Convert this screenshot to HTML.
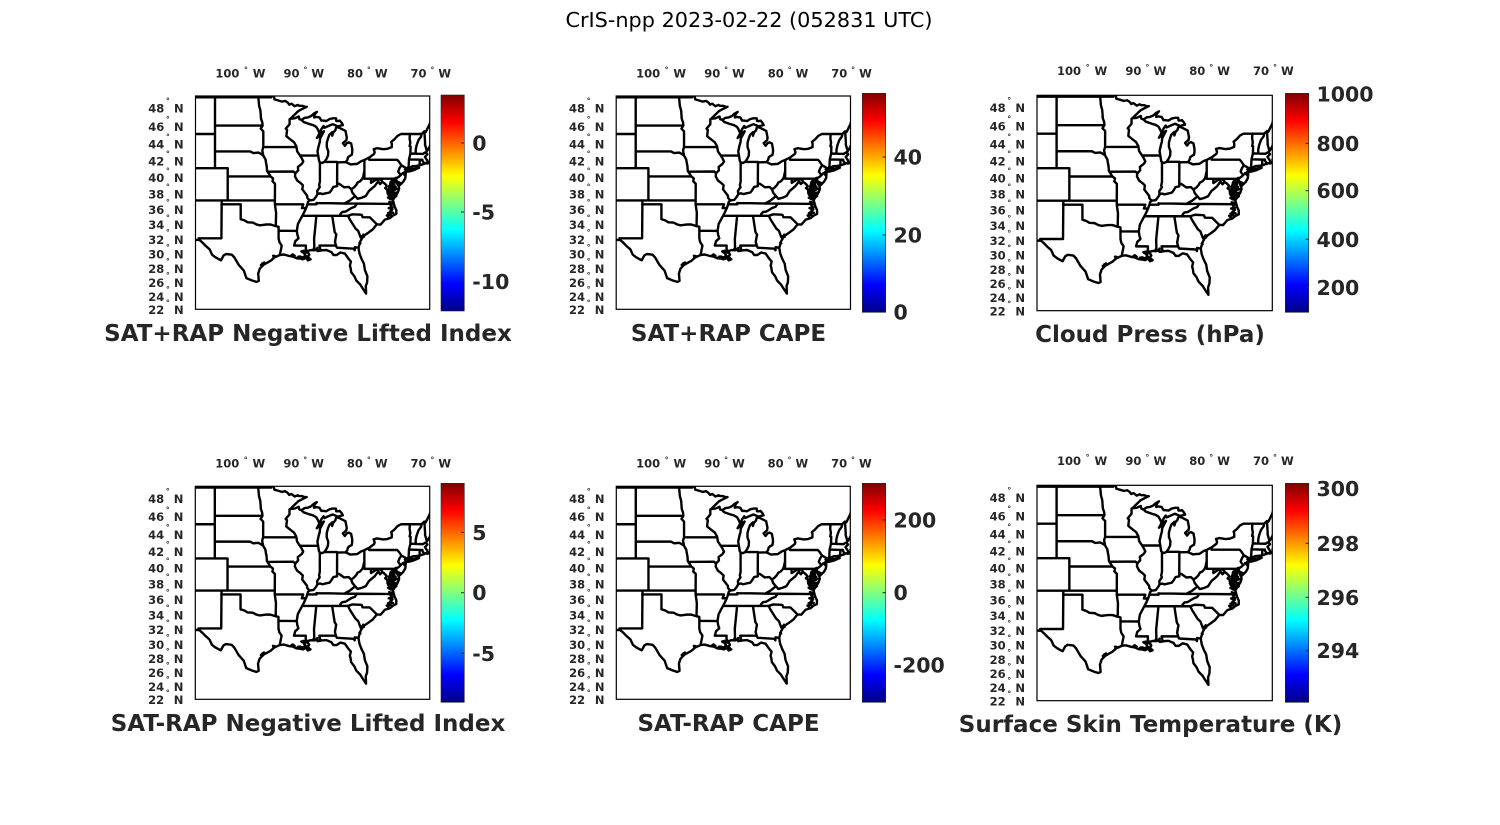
<!DOCTYPE html>
<html><head><meta charset="utf-8">
<style>
html,body{margin:0;padding:0;background:#fff;}
svg{display:block;}
.t{font-family:"DejaVu Sans","Liberation Sans",sans-serif;font-weight:bold;font-size:11.5px;fill:#262626;}
.e{text-anchor:end;}
.g{font-family:"DejaVu Sans","Liberation Sans",sans-serif;font-weight:bold;font-size:8px;fill:#262626;text-anchor:middle;}
.c{font-family:"DejaVu Sans","Liberation Sans",sans-serif;font-weight:bold;font-size:20.5px;fill:#262626;}
.h{font-family:"DejaVu Sans","Liberation Sans",sans-serif;font-weight:bold;font-size:23px;fill:#262626;text-anchor:middle;}
.fr{fill:none;stroke:#000;stroke-width:1.2;}
.tk{stroke:#262626;stroke-width:1;}
.cb{stroke:#262626;stroke-width:0.6;}
</style></head>
<body>
<svg width="1500" height="825" viewBox="0 0 1500 825" xmlns="http://www.w3.org/2000/svg">
<defs>
<linearGradient id="jet" x1="0" y1="1" x2="0" y2="0">
<stop offset="0" stop-color="#000088"/>
<stop offset="0.125" stop-color="#0000ff"/>
<stop offset="0.375" stop-color="#00ffff"/>
<stop offset="0.625" stop-color="#ffff00"/>
<stop offset="0.875" stop-color="#ff0000"/>
<stop offset="1" stop-color="#800000"/>
</linearGradient>
<clipPath id="cp"><rect x="0" y="0" width="234.2" height="213.3"/></clipPath>
<path id="mp" d="" fill="none" stroke="#000" stroke-width="2.4" stroke-linejoin="round" stroke-linecap="round"/>
</defs>
<rect width="1500" height="825" fill="#fff"/>

<text x="749" y="27" text-anchor="middle" font-family="DejaVu Sans, Liberation Sans, sans-serif" font-size="20.8" fill="#000">CrIS-npp 2023-02-22 (052831 UTC)</text>

<!-- Panel 1 -->
<g transform="translate(195.5,96)">
<use href="#mp" clip-path="url(#cp)"/>
<rect class="fr" width="234.2" height="213.3"/>
<g class="t e"><text x="-31.2" y="16.5">48</text><text x="-31.2" y="34.9">46</text><text x="-31.2" y="52.6">44</text><text x="-31.2" y="69.6">42</text><text x="-31.2" y="86.2">40</text><text x="-31.2" y="102.3">38</text><text x="-31.2" y="117.9">36</text><text x="-31.2" y="133.2">34</text><text x="-31.2" y="148.1">32</text><text x="-31.2" y="162.7">30</text><text x="-31.2" y="177">28</text><text x="-31.2" y="191">26</text><text x="-31.2" y="204.8">24</text><text x="-31.2" y="218.2">22</text></g>
<g class="g"><text x="-27.6" y="7.6">°</text><text x="-27.6" y="26">°</text><text x="-27.6" y="43.7">°</text><text x="-27.6" y="60.7">°</text><text x="-27.6" y="77.3">°</text><text x="-27.6" y="93.4">°</text><text x="-27.6" y="109">°</text><text x="-27.6" y="124.3">°</text><text x="-27.6" y="139.2">°</text><text x="-27.6" y="153.8">°</text><text x="-27.6" y="168.1">°</text><text x="-27.6" y="182.1">°</text><text x="-27.6" y="195.9">°</text><text x="-27.6" y="209.3">°</text></g>
<g class="t"><text x="-21.5" y="16.5">N</text><text x="-21.5" y="34.9">N</text><text x="-21.5" y="52.6">N</text><text x="-21.5" y="69.6">N</text><text x="-21.5" y="86.2">N</text><text x="-21.5" y="102.3">N</text><text x="-21.5" y="117.9">N</text><text x="-21.5" y="133.2">N</text><text x="-21.5" y="148.1">N</text><text x="-21.5" y="162.7">N</text><text x="-21.5" y="177">N</text><text x="-21.5" y="191">N</text><text x="-21.5" y="204.8">N</text><text x="-21.5" y="218.2">N</text></g>
<g class="t"><text x="19.9" y="-18.7">100</text><text x="88" y="-18.7">90</text><text x="151.5" y="-18.7">80</text><text x="215" y="-18.7">70</text><text x="57.2" y="-18.7">W</text><text x="115.9" y="-18.7">W</text><text x="179.4" y="-18.7">W</text><text x="242.9" y="-18.7">W</text></g>
<g class="g"><text x="50.4" y="-23.5">°</text><text x="109.9" y="-23.5">°</text><text x="173.4" y="-23.5">°</text><text x="236.9" y="-23.5">°</text></g>
</g>

<!-- Panel 2 -->
<g transform="translate(616.2,96) scale(1.0004,1)">
<use href="#mp" clip-path="url(#cp)"/>
<rect class="fr" width="234.2" height="213.3"/>
<g class="t e"><text x="-31.2" y="16.5">48</text><text x="-31.2" y="34.9">46</text><text x="-31.2" y="52.6">44</text><text x="-31.2" y="69.6">42</text><text x="-31.2" y="86.2">40</text><text x="-31.2" y="102.3">38</text><text x="-31.2" y="117.9">36</text><text x="-31.2" y="133.2">34</text><text x="-31.2" y="148.1">32</text><text x="-31.2" y="162.7">30</text><text x="-31.2" y="177">28</text><text x="-31.2" y="191">26</text><text x="-31.2" y="204.8">24</text><text x="-31.2" y="218.2">22</text></g>
<g class="g"><text x="-27.6" y="7.6">°</text><text x="-27.6" y="26">°</text><text x="-27.6" y="43.7">°</text><text x="-27.6" y="60.7">°</text><text x="-27.6" y="77.3">°</text><text x="-27.6" y="93.4">°</text><text x="-27.6" y="109">°</text><text x="-27.6" y="124.3">°</text><text x="-27.6" y="139.2">°</text><text x="-27.6" y="153.8">°</text><text x="-27.6" y="168.1">°</text><text x="-27.6" y="182.1">°</text><text x="-27.6" y="195.9">°</text><text x="-27.6" y="209.3">°</text></g>
<g class="t"><text x="-21.5" y="16.5">N</text><text x="-21.5" y="34.9">N</text><text x="-21.5" y="52.6">N</text><text x="-21.5" y="69.6">N</text><text x="-21.5" y="86.2">N</text><text x="-21.5" y="102.3">N</text><text x="-21.5" y="117.9">N</text><text x="-21.5" y="133.2">N</text><text x="-21.5" y="148.1">N</text><text x="-21.5" y="162.7">N</text><text x="-21.5" y="177">N</text><text x="-21.5" y="191">N</text><text x="-21.5" y="204.8">N</text><text x="-21.5" y="218.2">N</text></g>
<g class="t"><text x="19.9" y="-18.7">100</text><text x="88" y="-18.7">90</text><text x="151.5" y="-18.7">80</text><text x="215" y="-18.7">70</text><text x="57.2" y="-18.7">W</text><text x="115.9" y="-18.7">W</text><text x="179.4" y="-18.7">W</text><text x="242.9" y="-18.7">W</text></g>
<g class="g"><text x="50.4" y="-23.5">°</text><text x="109.9" y="-23.5">°</text><text x="173.4" y="-23.5">°</text><text x="236.9" y="-23.5">°</text></g>
</g>

<!-- Panel 3 -->
<g transform="translate(1037,95.3) scale(1.0047,1.0098)">
<use href="#mp" clip-path="url(#cp)"/>
<rect class="fr" width="234.2" height="213.3"/>
<g class="t e"><text x="-31.2" y="16.5">48</text><text x="-31.2" y="34.9">46</text><text x="-31.2" y="52.6">44</text><text x="-31.2" y="69.6">42</text><text x="-31.2" y="86.2">40</text><text x="-31.2" y="102.3">38</text><text x="-31.2" y="117.9">36</text><text x="-31.2" y="133.2">34</text><text x="-31.2" y="148.1">32</text><text x="-31.2" y="162.7">30</text><text x="-31.2" y="177">28</text><text x="-31.2" y="191">26</text><text x="-31.2" y="204.8">24</text><text x="-31.2" y="218.2">22</text></g>
<g class="g"><text x="-27.6" y="7.6">°</text><text x="-27.6" y="26">°</text><text x="-27.6" y="43.7">°</text><text x="-27.6" y="60.7">°</text><text x="-27.6" y="77.3">°</text><text x="-27.6" y="93.4">°</text><text x="-27.6" y="109">°</text><text x="-27.6" y="124.3">°</text><text x="-27.6" y="139.2">°</text><text x="-27.6" y="153.8">°</text><text x="-27.6" y="168.1">°</text><text x="-27.6" y="182.1">°</text><text x="-27.6" y="195.9">°</text><text x="-27.6" y="209.3">°</text></g>
<g class="t"><text x="-21.5" y="16.5">N</text><text x="-21.5" y="34.9">N</text><text x="-21.5" y="52.6">N</text><text x="-21.5" y="69.6">N</text><text x="-21.5" y="86.2">N</text><text x="-21.5" y="102.3">N</text><text x="-21.5" y="117.9">N</text><text x="-21.5" y="133.2">N</text><text x="-21.5" y="148.1">N</text><text x="-21.5" y="162.7">N</text><text x="-21.5" y="177">N</text><text x="-21.5" y="191">N</text><text x="-21.5" y="204.8">N</text><text x="-21.5" y="218.2">N</text></g>
<g class="t"><text x="19.9" y="-20.1">100</text><text x="88" y="-20.1">90</text><text x="151.5" y="-20.1">80</text><text x="215" y="-20.1">70</text><text x="57.2" y="-20.1">W</text><text x="115.9" y="-20.1">W</text><text x="179.4" y="-20.1">W</text><text x="242.9" y="-20.1">W</text></g>
<g class="g"><text x="50.4" y="-24.9">°</text><text x="109.9" y="-24.9">°</text><text x="173.4" y="-24.9">°</text><text x="236.9" y="-24.9">°</text></g>
</g>

<!-- Panel 4 -->
<g transform="translate(195.3,486.3) scale(1.0009,0.9986)">
<use href="#mp" clip-path="url(#cp)"/>
<rect class="fr" width="234.2" height="213.3"/>
<g class="t e"><text x="-31.2" y="16.5">48</text><text x="-31.2" y="34.9">46</text><text x="-31.2" y="52.6">44</text><text x="-31.2" y="69.6">42</text><text x="-31.2" y="86.2">40</text><text x="-31.2" y="102.3">38</text><text x="-31.2" y="117.9">36</text><text x="-31.2" y="133.2">34</text><text x="-31.2" y="148.1">32</text><text x="-31.2" y="162.7">30</text><text x="-31.2" y="177">28</text><text x="-31.2" y="191">26</text><text x="-31.2" y="204.8">24</text><text x="-31.2" y="218.2">22</text></g>
<g class="g"><text x="-27.6" y="7.6">°</text><text x="-27.6" y="26">°</text><text x="-27.6" y="43.7">°</text><text x="-27.6" y="60.7">°</text><text x="-27.6" y="77.3">°</text><text x="-27.6" y="93.4">°</text><text x="-27.6" y="109">°</text><text x="-27.6" y="124.3">°</text><text x="-27.6" y="139.2">°</text><text x="-27.6" y="153.8">°</text><text x="-27.6" y="168.1">°</text><text x="-27.6" y="182.1">°</text><text x="-27.6" y="195.9">°</text><text x="-27.6" y="209.3">°</text></g>
<g class="t"><text x="-21.5" y="16.5">N</text><text x="-21.5" y="34.9">N</text><text x="-21.5" y="52.6">N</text><text x="-21.5" y="69.6">N</text><text x="-21.5" y="86.2">N</text><text x="-21.5" y="102.3">N</text><text x="-21.5" y="117.9">N</text><text x="-21.5" y="133.2">N</text><text x="-21.5" y="148.1">N</text><text x="-21.5" y="162.7">N</text><text x="-21.5" y="177">N</text><text x="-21.5" y="191">N</text><text x="-21.5" y="204.8">N</text><text x="-21.5" y="218.2">N</text></g>
<g class="t"><text x="19.9" y="-19">100</text><text x="88" y="-19">90</text><text x="151.5" y="-19">80</text><text x="215" y="-19">70</text><text x="57.2" y="-19">W</text><text x="115.9" y="-19">W</text><text x="179.4" y="-19">W</text><text x="242.9" y="-19">W</text></g>
<g class="g"><text x="50.4" y="-23.8">°</text><text x="109.9" y="-23.8">°</text><text x="173.4" y="-23.8">°</text><text x="236.9" y="-23.8">°</text></g>
</g>

<!-- Panel 5 -->
<g transform="translate(616.3,486.3) scale(0.9991,0.9986)">
<use href="#mp" clip-path="url(#cp)"/>
<rect class="fr" width="234.2" height="213.3"/>
<g class="t e"><text x="-31.2" y="16.5">48</text><text x="-31.2" y="34.9">46</text><text x="-31.2" y="52.6">44</text><text x="-31.2" y="69.6">42</text><text x="-31.2" y="86.2">40</text><text x="-31.2" y="102.3">38</text><text x="-31.2" y="117.9">36</text><text x="-31.2" y="133.2">34</text><text x="-31.2" y="148.1">32</text><text x="-31.2" y="162.7">30</text><text x="-31.2" y="177">28</text><text x="-31.2" y="191">26</text><text x="-31.2" y="204.8">24</text><text x="-31.2" y="218.2">22</text></g>
<g class="g"><text x="-27.6" y="7.6">°</text><text x="-27.6" y="26">°</text><text x="-27.6" y="43.7">°</text><text x="-27.6" y="60.7">°</text><text x="-27.6" y="77.3">°</text><text x="-27.6" y="93.4">°</text><text x="-27.6" y="109">°</text><text x="-27.6" y="124.3">°</text><text x="-27.6" y="139.2">°</text><text x="-27.6" y="153.8">°</text><text x="-27.6" y="168.1">°</text><text x="-27.6" y="182.1">°</text><text x="-27.6" y="195.9">°</text><text x="-27.6" y="209.3">°</text></g>
<g class="t"><text x="-21.5" y="16.5">N</text><text x="-21.5" y="34.9">N</text><text x="-21.5" y="52.6">N</text><text x="-21.5" y="69.6">N</text><text x="-21.5" y="86.2">N</text><text x="-21.5" y="102.3">N</text><text x="-21.5" y="117.9">N</text><text x="-21.5" y="133.2">N</text><text x="-21.5" y="148.1">N</text><text x="-21.5" y="162.7">N</text><text x="-21.5" y="177">N</text><text x="-21.5" y="191">N</text><text x="-21.5" y="204.8">N</text><text x="-21.5" y="218.2">N</text></g>
<g class="t"><text x="19.9" y="-19">100</text><text x="88" y="-19">90</text><text x="151.5" y="-19">80</text><text x="215" y="-19">70</text><text x="57.2" y="-19">W</text><text x="115.9" y="-19">W</text><text x="179.4" y="-19">W</text><text x="242.9" y="-19">W</text></g>
<g class="g"><text x="50.4" y="-23.8">°</text><text x="109.9" y="-23.8">°</text><text x="173.4" y="-23.8">°</text><text x="236.9" y="-23.8">°</text></g>
</g>

<!-- Panel 6 -->
<g transform="translate(1037,485.3) scale(1.0047,1.0098)">
<use href="#mp" clip-path="url(#cp)"/>
<rect class="fr" width="234.2" height="213.3"/>
<g class="t e"><text x="-31.2" y="16.5">48</text><text x="-31.2" y="34.9">46</text><text x="-31.2" y="52.6">44</text><text x="-31.2" y="69.6">42</text><text x="-31.2" y="86.2">40</text><text x="-31.2" y="102.3">38</text><text x="-31.2" y="117.9">36</text><text x="-31.2" y="133.2">34</text><text x="-31.2" y="148.1">32</text><text x="-31.2" y="162.7">30</text><text x="-31.2" y="177">28</text><text x="-31.2" y="191">26</text><text x="-31.2" y="204.8">24</text><text x="-31.2" y="218.2">22</text></g>
<g class="g"><text x="-27.6" y="7.6">°</text><text x="-27.6" y="26">°</text><text x="-27.6" y="43.7">°</text><text x="-27.6" y="60.7">°</text><text x="-27.6" y="77.3">°</text><text x="-27.6" y="93.4">°</text><text x="-27.6" y="109">°</text><text x="-27.6" y="124.3">°</text><text x="-27.6" y="139.2">°</text><text x="-27.6" y="153.8">°</text><text x="-27.6" y="168.1">°</text><text x="-27.6" y="182.1">°</text><text x="-27.6" y="195.9">°</text><text x="-27.6" y="209.3">°</text></g>
<g class="t"><text x="-21.5" y="16.5">N</text><text x="-21.5" y="34.9">N</text><text x="-21.5" y="52.6">N</text><text x="-21.5" y="69.6">N</text><text x="-21.5" y="86.2">N</text><text x="-21.5" y="102.3">N</text><text x="-21.5" y="117.9">N</text><text x="-21.5" y="133.2">N</text><text x="-21.5" y="148.1">N</text><text x="-21.5" y="162.7">N</text><text x="-21.5" y="177">N</text><text x="-21.5" y="191">N</text><text x="-21.5" y="204.8">N</text><text x="-21.5" y="218.2">N</text></g>
<g class="t"><text x="19.9" y="-20.1">100</text><text x="88" y="-20.1">90</text><text x="151.5" y="-20.1">80</text><text x="215" y="-20.1">70</text><text x="57.2" y="-20.1">W</text><text x="115.9" y="-20.1">W</text><text x="179.4" y="-20.1">W</text><text x="242.9" y="-20.1">W</text></g>
<g class="g"><text x="50.4" y="-24.9">°</text><text x="109.9" y="-24.9">°</text><text x="173.4" y="-24.9">°</text><text x="236.9" y="-24.9">°</text></g>
</g>

<!-- Colorbars -->
<rect class="cb" x="441" y="95" width="23.3" height="216" fill="url(#jet)"/>
<line class="tk" x1="461" y1="143" x2="464.3" y2="143"/><line class="tk" x1="461" y1="212" x2="464.3" y2="212"/><line class="tk" x1="461" y1="281" x2="464.3" y2="281"/>
<text class="c" x="472.3" y="150.3">0</text><text class="c" x="472.3" y="219.5">-5</text><text class="c" x="472.3" y="288.8">-10</text>

<rect class="cb" x="862.3" y="93.3" width="23.4" height="219" fill="url(#jet)"/>
<line class="tk" x1="882.5" y1="157" x2="885.7" y2="157"/><line class="tk" x1="882.5" y1="235" x2="885.7" y2="235"/>
<text class="c" x="893.5" y="164.5">40</text><text class="c" x="893.5" y="242.5">20</text><text class="c" x="893.5" y="319.5">0</text>

<rect class="cb" x="1285.3" y="93.3" width="23.4" height="219" fill="url(#jet)"/>
<line class="tk" x1="1305.5" y1="143.3" x2="1308.7" y2="143.3"/><line class="tk" x1="1305.5" y1="190.7" x2="1308.7" y2="190.7"/><line class="tk" x1="1305.5" y1="239.3" x2="1308.7" y2="239.3"/><line class="tk" x1="1305.5" y1="287.3" x2="1308.7" y2="287.3"/>
<text class="c" x="1316.5" y="101.5">1000</text><text class="c" x="1316.5" y="150.8">800</text><text class="c" x="1316.5" y="198.2">600</text><text class="c" x="1316.5" y="246.8">400</text><text class="c" x="1316.5" y="294.8">200</text>

<rect class="cb" x="441" y="483.3" width="23.3" height="219" fill="url(#jet)"/>
<line class="tk" x1="461" y1="532.3" x2="464.3" y2="532.3"/><line class="tk" x1="461" y1="592.7" x2="464.3" y2="592.7"/><line class="tk" x1="461" y1="653.3" x2="464.3" y2="653.3"/>
<text class="c" x="472.3" y="539.8">5</text><text class="c" x="472.3" y="600.2">0</text><text class="c" x="472.3" y="660.8">-5</text>

<rect class="cb" x="862.3" y="483.3" width="23.4" height="219" fill="url(#jet)"/>
<line class="tk" x1="882.5" y1="520" x2="885.7" y2="520"/><line class="tk" x1="882.5" y1="592.7" x2="885.7" y2="592.7"/><line class="tk" x1="882.5" y1="665" x2="885.7" y2="665"/>
<text class="c" x="893.5" y="527.5">200</text><text class="c" x="893.5" y="600.2">0</text><text class="c" x="893.5" y="672.5">-200</text>

<rect class="cb" x="1285.3" y="483.3" width="23.4" height="219" fill="url(#jet)"/>
<line class="tk" x1="1305.5" y1="543.3" x2="1308.7" y2="543.3"/><line class="tk" x1="1305.5" y1="597.3" x2="1308.7" y2="597.3"/><line class="tk" x1="1305.5" y1="650.7" x2="1308.7" y2="650.7"/>
<text class="c" x="1316.5" y="495.8">300</text><text class="c" x="1316.5" y="550.8">298</text><text class="c" x="1316.5" y="604.8">296</text><text class="c" x="1316.5" y="658.2">294</text>

<!-- Titles -->
<text class="h" x="308" y="341">SAT+RAP Negative Lifted Index</text>
<text class="h" x="728.5" y="341">SAT+RAP CAPE</text>
<text class="h" x="1150" y="342">Cloud Press (hPa)</text>
<text class="h" x="308" y="731">SAT-RAP Negative Lifted Index</text>
<text class="h" x="728.5" y="731">SAT-RAP CAPE</text>
<text class="h" x="1150.5" y="732">Surface Skin Temperature (K)</text>
</svg>

<script>
(function(){
var W0=107.12,SX=6.35,M0=0.9875,SY=358;
function P(w,lat){var m=Math.log(Math.tan(Math.PI/4+lat*Math.PI/360));return [(W0-w)*SX,(M0-m)*SY];}
var L=[
[107.5,49.0,95.15,49.0,95.15,49.38,94.83,49.32,94.68,48.78,94.0,48.65,93.5,48.55,93.0,48.62,92.6,48.45,92.35,48.23,92.0,48.33,91.5,48.06,91.0,48.2,90.8,48.1,90.3,48.1,89.9,47.99,89.6,48.0,90.2,47.8,90.9,47.55,91.6,47.1,92.1,46.75,92.0,46.7,91.5,46.75,91.0,46.9,90.85,46.95,90.75,46.65,90.42,46.57],
[90.42,46.57,89.9,46.8,89.4,46.85,88.9,47.0,88.5,47.25,88.0,47.45,88.2,47.3,88.4,47.1,88.45,46.85,88.1,46.9,87.6,46.85,87.3,46.5,87.0,46.5,86.5,46.45,86.0,46.67,85.5,46.75,85.0,46.75,84.95,46.45,84.6,46.45,84.4,46.5,84.1,46.25,83.9,46.0,84.2,45.95,84.7,45.85,85.5,46.1,86.0,45.95,86.5,45.8,86.8,45.7,86.95,45.9,87.3,45.55,87.6,45.1],
[90.42,46.57,90.1,46.34,89.1,46.1,88.6,46.0,88.1,45.8,87.85,45.5,87.6,45.1],
[87.6,45.1,87.8,44.8,88.0,44.55,87.7,44.75,87.35,45.1,86.9,45.3,87.2,44.9,87.5,44.5,87.55,44.1,87.7,43.7,87.9,43.0,87.8,42.5,87.65,41.85,87.52,41.7,87.2,41.62,86.82,41.76],
[86.82,41.76,86.5,42.1,86.25,42.5,86.2,43.0,86.45,43.5,86.45,44.0,86.25,44.5,86.05,44.9,85.6,45.2,85.6,44.8,85.4,45.2,85.1,45.4,85.0,45.7,84.75,45.78,84.35,45.65,83.5,45.35,83.4,45.0,83.3,44.6,83.35,44.3,83.9,43.95,83.6,43.65,83.3,43.95,83.0,44.05,82.6,43.9,82.45,43.3,82.42,42.97,82.5,42.6,82.85,42.45,83.1,42.3,83.2,42.0,83.45,41.73],
[83.45,41.73,83.1,41.6,82.7,41.45,82.0,41.5,81.7,41.5,81.0,41.85,80.52,41.98,80.1,42.15,79.76,42.27,79.0,42.7,78.9,42.9,79.05,43.26,78.5,43.37,77.6,43.25,76.9,43.3,76.2,43.5,76.2,43.9,76.3,44.1,75.8,44.4,75.3,44.8,74.75,45.0,73.35,45.0,71.5,45.01,71.08,45.3,70.85,45.23,70.6,45.6,70.25,46.1,70.0,46.7,69.5,47.2,69.2,47.45],
[69.0,44.0,69.8,43.8,70.2,43.6,70.6,43.1,70.7,43.07,70.8,42.87,70.6,42.65,71.0,42.35,70.65,41.95,70.55,41.77,70.0,41.77,70.03,41.93,70.2,42.07,70.05,42.05,69.97,41.9,69.93,41.68,70.3,41.63,70.65,41.55,70.9,41.62,71.12,41.5,71.4,41.45,71.85,41.32,72.4,41.27,72.9,41.25,73.65,41.0,73.8,40.85,74.0,40.7,74.05,40.6,74.25,40.5,74.0,40.42,74.05,40.0,74.1,39.75,74.4,39.35,74.95,38.93,74.9,39.2,75.2,39.3,75.4,39.4,75.55,39.62],
[75.55,39.62,75.45,39.3,75.3,39.0,75.1,38.78,75.05,38.45,75.25,38.03,75.5,37.7,75.7,37.45,75.97,37.12,75.95,37.5,75.85,37.95,76.05,38.2,76.3,38.5,76.2,38.8,76.1,39.2,75.95,39.5,76.1,39.55,76.4,39.3,76.5,38.9,76.5,38.4,76.3,38.05],
[76.3,38.05,76.25,37.9,76.3,37.6,76.35,37.3,76.0,36.95,75.87,36.55,75.75,36.2,75.5,35.75,75.5,35.25,76.0,35.05,76.5,34.7,77.3,34.5,77.95,33.85,78.55,33.88,79.2,33.2,79.9,32.75,80.5,32.4,80.85,32.05,81.15,31.6,81.45,30.7,81.3,29.9,81.0,29.2,80.6,28.5,80.45,27.6,80.05,26.7,80.1,25.8,80.3,25.3,80.25,24.2,80.9,25.1,81.15,25.5,81.8,26.1,82.1,26.7,82.6,27.3,82.7,27.9,82.8,28.2,82.65,28.8,83.0,29.15,83.6,29.9,84.3,30.05,84.9,29.7,85.4,29.7,85.7,30.1,86.5,30.4,87.2,30.35,87.5,30.3,87.9,30.25,87.9,30.7,88.05,30.5,88.4,30.35,89.0,30.38,89.6,30.2,89.7,30.05,89.4,30.05,89.2,29.75,89.45,29.5,89.15,29.2,89.0,29.1,89.4,28.95,89.7,29.3,90.2,29.1,90.6,29.2,91.2,29.25,91.8,29.5,92.3,29.55,93.2,29.78,93.85,29.7,94.7,29.35,95.3,28.9,96.4,28.35,97.0,27.8,97.25,27.1,97.15,26.05,97.5,25.9,98.2,26.1,99.1,26.45,99.5,27.5,100.3,28.3,101.0,29.35,101.4,29.75,102.3,29.85,102.7,29.65,103.1,28.97,103.5,29.15,104.0,29.4,104.5,29.75,104.9,30.5,105.5,30.95,106.0,31.4,106.5,31.78,108.2,31.78],
[104.05,49.3,104.05,41.0],
[107.5,45.0,104.05,45.0],
[107.5,41.0,102.05,41.0,102.05,37.0],
[107.5,37.0,94.62,37.0],
[103.0,37.0,103.04,32.0,106.62,32.0,106.5,31.78],
[103.04,36.5,100.0,36.5,100.0,34.56,99.4,34.4,98.9,34.15,98.1,34.1,97.5,33.85,97.0,33.75,96.5,33.8,96.0,33.85,95.3,33.85,94.5,33.64,94.04,33.55,94.04,32.0,93.9,31.5,93.55,31.0,93.7,30.3,93.85,29.7],
[94.62,37.0,94.62,36.5,94.43,35.39,94.48,33.64],
[94.04,33.02,91.17,33.0],
[102.05,40.0,95.3,40.0],
[104.05,43.0,98.5,43.0,98.0,42.8,97.2,42.85,96.7,42.65,96.45,42.5,96.1,42.05,96.0,41.6,95.9,41.25,95.85,40.65,95.77,40.58,95.3,40.0,94.9,39.75,95.0,39.4,94.6,39.1,94.62,37.0],
[104.05,45.94,96.56,45.94],
[96.56,45.94,96.6,46.3,96.8,46.7,96.85,47.2,96.9,47.6,97.1,48.1,97.15,48.5,97.23,49.0],
[96.56,45.94,96.85,45.6,96.45,45.3,96.45,43.5,96.6,43.1,96.45,42.5],
[96.45,43.5,91.22,43.5],
[91.22,43.5,91.25,43.6,91.6,44.05,92.3,44.45,92.8,44.75,92.75,45.1,92.7,45.45,92.9,45.6,92.3,46.1,92.3,46.65,92.1,46.75],
[91.22,43.5,91.1,43.0,90.65,42.5,90.4,42.2,90.15,41.8,90.4,41.5,91.0,41.15,90.95,40.75,91.4,40.38,91.45,40.0,91.1,39.5,90.6,39.2,90.2,38.9,90.3,38.4,89.55,37.6,89.5,37.3,89.15,37.0,89.4,36.8,89.5,36.5,89.7,36.0,90.05,35.4,90.3,35.0,90.7,34.4,91.0,33.9,91.17,33.0,91.05,32.4,90.9,32.0,91.4,31.6,91.6,31.0,89.73,31.0,89.75,30.6,89.6,30.2],
[95.77,40.58,91.7,40.6,91.4,40.38],
[90.65,42.5,87.8,42.5],
[94.62,36.5,90.15,36.5,90.37,36.0,89.7,36.0],
[89.15,37.0,88.5,37.07,88.1,37.5,87.9,37.8,87.5,37.9,87.1,37.8,86.6,37.9,86.0,38.0,85.75,38.25,85.4,38.7,84.8,38.8,84.82,39.1,84.5,39.1,83.7,38.65,83.0,38.7,82.6,38.4,82.2,38.6,81.8,38.95,81.6,39.25,81.2,39.4,80.85,39.7,80.7,40.0,80.6,40.4,80.52,40.64,80.52,41.98],
[87.53,41.7,87.53,39.35,87.65,38.9,87.55,38.68,87.95,38.2,87.9,37.8],
[84.82,39.1,84.8,41.76],
[86.82,41.76,84.8,41.76,84.8,41.7,83.45,41.73],
[89.5,36.5,88.05,36.5,88.07,36.68,87.85,36.63,86.0,36.64,83.68,36.6,81.68,36.59],
[82.6,38.4,82.4,37.95,81.97,37.54,82.8,37.0,83.68,36.6],
[75.87,36.55,81.68,36.59,82.0,36.2,82.6,36.0,83.1,35.75,83.5,35.55,84.0,35.5,84.3,35.22,84.32,34.99],
[90.3,35.0,83.1,35.0],
[83.1,35.0,82.4,35.2,81.05,35.15,80.93,35.1,80.8,34.82,79.67,34.8,78.55,33.88],
[83.1,35.0,82.8,34.5,82.2,33.7,81.9,33.3,81.5,33.0,81.1,32.1,80.85,32.05],
[85.6,35.0,85.2,32.85,84.95,32.5,85.05,32.0,85.15,31.5,85.0,31.0,84.86,30.71,82.21,30.57,82.05,30.36,82.02,30.79,81.45,30.7],
[85.0,31.0,87.6,31.0,87.45,30.45,87.5,30.3],
[88.2,35.0,88.1,34.9,88.45,31.9,88.4,30.35],
[77.72,39.32,78.05,39.05,78.35,39.4,78.9,38.8,79.5,38.4,79.8,38.2,80.3,37.55,80.9,37.35,81.6,37.2,81.97,37.54],
[80.52,40.64,80.52,39.72,75.79,39.72],
[79.48,39.72,79.48,39.2,79.0,39.45,78.7,39.6,78.2,39.7,77.8,39.5,77.72,39.32,77.45,39.2,77.05,38.9,77.05,38.7,77.25,38.55,77.0,38.4,76.9,38.3,76.6,38.2,76.3,38.05],
[75.79,39.72,75.79,38.46,75.05,38.45],
[75.79,39.72,75.6,39.83,75.4,39.8],
[75.25,38.03,75.65,37.95,75.85,37.95],
[75.55,39.62,75.4,39.8,75.1,39.95,74.75,40.2,75.05,40.4,75.2,40.6,75.0,41.0,74.7,41.35,75.1,41.8,75.35,42.0,79.76,42.0,79.76,42.27],
[74.7,41.35,73.9,41.0,74.0,40.75],
[73.35,45.0,73.4,44.5,73.3,44.0,73.4,43.6,73.25,43.57,73.27,42.75,73.5,42.05,73.55,41.3,73.65,41.0],
[71.5,45.01,71.6,44.7,72.0,44.3,72.3,43.7,72.45,43.2,72.45,42.73],
[73.27,42.75,72.45,42.73,71.3,42.7,71.0,42.85,70.8,42.87],
[71.08,45.3,70.97,44.0,70.98,43.8,70.7,43.07],
[73.5,42.05,71.8,42.02,71.38,42.02,71.38,41.9,71.12,41.6,71.12,41.5],
[71.8,42.02,71.85,41.32],
[74.0,40.58,73.5,40.6,72.8,40.75,71.9,41.05,72.3,41.0,72.6,40.95,73.5,40.9,73.9,40.8,74.0,40.58],
[76.0,36.55,76.4,36.35,76.1,36.1,76.7,36.0,76.1,35.85,76.5,35.55,76.0,35.4,76.8,35.35,76.4,35.15,77.0,35.05,76.7,34.8],
[76.35,38.3,76.7,38.45,76.45,38.6,76.7,38.75],
[76.3,37.6,76.8,37.75,76.4,37.45,76.8,37.35,76.4,37.15],
[75.9,38.05,76.15,38.3,75.9,38.45,76.2,38.6,75.95,38.75,76.25,38.95,76.05,39.1,76.3,39.35],
[75.6,38.7,75.85,38.55,75.65,38.35,75.95,38.3],
[76.6,38.0,76.9,38.15,76.5,37.9,76.9,37.95],
[75.4,37.9,75.7,37.75,75.5,37.55,75.8,37.35],
[76.2,36.7,76.6,36.8,76.3,36.45],
[74.2,40.3,74.5,40.4,74.15,40.15],
[73.9,40.7,74.15,40.85,73.95,40.95],
[90.0,30.3,90.45,30.2,90.2,30.05,89.85,30.15],
[90.0,29.9,89.75,29.6,90.1,29.45,89.8,29.3,90.3,29.35,90.6,29.5,91.0,29.45,90.85,29.3],
[91.5,29.6,91.8,29.8,92.1,29.6],
[88.5,30.6,88.2,30.4,88.6,30.4],
[94.9,29.6,94.6,29.55,94.85,29.3],
[96.6,28.5,96.3,28.65,96.8,28.3],
[80.9,32.3,80.6,32.2,80.7,32.5],
[81.3,31.4,81.15,31.3],
[70.2,43.6,70.1,43.9,70.0,43.75,69.9,44.0]
];
var d='';
for(var k=0;k<L.length;k++){var s=L[k];for(var i=0;i<s.length;i+=2){var p=P(s[i],s[i+1]);d+=(i?'L':'M')+p[0].toFixed(1)+' '+p[1].toFixed(1);}}
document.getElementById('mp').setAttribute('d',d);
})();
</script>
</body></html>
